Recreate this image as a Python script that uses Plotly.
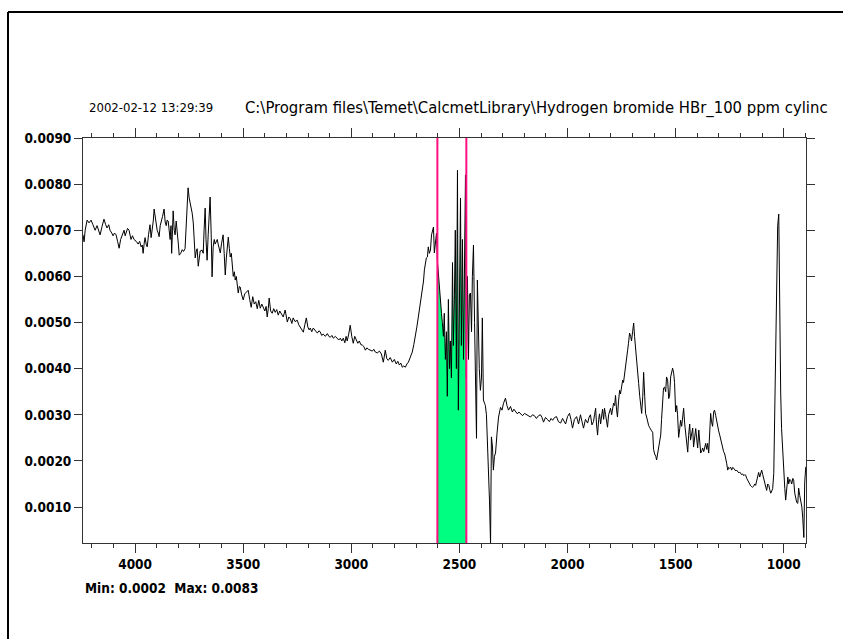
import numpy as np
import plotly.graph_objects as go

# ---------------- data: (wavenumber cm-1, absorbance) ----------------
region_high = [
    (4241, 0.00690), (4236, 0.00675), (4231, 0.00700), (4222, 0.00722), (4213, 0.00716),
    (4204, 0.00722), (4195, 0.00712), (4185, 0.00700), (4176, 0.00710), (4167, 0.00698),
    (4162, 0.00690), (4153, 0.00708), (4144, 0.00724), (4136, 0.00712), (4130, 0.00705),
    (4122, 0.00712), (4116, 0.00700), (4108, 0.00694), (4102, 0.00688), (4095, 0.00694),
    (4088, 0.00690), (4081, 0.00676), (4074, 0.00661), (4067, 0.00680), (4060, 0.00690),
    (4051, 0.00700), (4046, 0.00688), (4042, 0.00694), (4035, 0.00704), (4028, 0.00700),
    (4019, 0.00680), (4012, 0.00688), (4005, 0.00680), (3995, 0.00676), (3986, 0.00670),
    (3979, 0.00676), (3972, 0.00664), (3967, 0.00668), (3963, 0.00650), (3958, 0.00672),
    (3954, 0.00684), (3949, 0.00670), (3944, 0.00664), (3938, 0.00690), (3931, 0.00712),
    (3926, 0.00684), (3921, 0.00700), (3916, 0.00720), (3912, 0.00746), (3905, 0.00720),
    (3898, 0.00700), (3893, 0.00694), (3889, 0.00686), (3884, 0.00710), (3880, 0.00720),
    (3873, 0.00730), (3866, 0.00746), (3861, 0.00718), (3856, 0.00710), (3852, 0.00722),
    (3847, 0.00720), (3843, 0.00700), (3838, 0.00680), (3834, 0.00710), (3831, 0.00650),
    (3827, 0.00700), (3824, 0.00742), (3819, 0.00700), (3815, 0.00690), (3810, 0.00720),
    (3805, 0.00700), (3800, 0.00670), (3796, 0.00646), (3789, 0.00650), (3782, 0.00658),
    (3776, 0.00654), (3769, 0.00660), (3762, 0.00720), (3755, 0.00792), (3750, 0.00770),
    (3745, 0.00760), (3736, 0.00737), (3731, 0.00716), (3727, 0.00680), (3722, 0.00640),
    (3717, 0.00655), (3713, 0.00660), (3708, 0.00622),
]

region_oh = [
    (3699, 0.00655), (3690, 0.00657), (3685, 0.00650), (3681, 0.00700), (3676, 0.00748),
    (3672, 0.00680), (3667, 0.00635), (3662, 0.00690), (3658, 0.00720), (3653, 0.00772),
    (3648, 0.00690), (3644, 0.00599), (3639, 0.00664), (3634, 0.00680), (3630, 0.00670),
    (3625, 0.00674), (3620, 0.00680), (3616, 0.00670), (3611, 0.00660), (3606, 0.00651),
    (3600, 0.00672), (3593, 0.00690), (3588, 0.00650), (3583, 0.00603), (3578, 0.00640),
    (3573, 0.00670), (3569, 0.00685), (3564, 0.00660), (3560, 0.00642), (3555, 0.00650),
    (3550, 0.00620), (3546, 0.00600), (3541, 0.00610), (3537, 0.00592), (3532, 0.00600),
    (3528, 0.00580), (3523, 0.00564), (3518, 0.00578), (3514, 0.00577), (3507, 0.00560),
    (3500, 0.00549),
]

region_slope = [
    (3493, 0.00562), (3486, 0.00566), (3477, 0.00570), (3470, 0.00550), (3463, 0.00533),
    (3456, 0.00556), (3449, 0.00540), (3442, 0.00545), (3435, 0.00530), (3428, 0.00548),
    (3421, 0.00531), (3414, 0.00540), (3407, 0.00530), (3400, 0.00525), (3394, 0.00535),
    (3389, 0.00512), (3384, 0.00530), (3380, 0.00553), (3373, 0.00525), (3366, 0.00520),
    (3359, 0.00530), (3352, 0.00522), (3345, 0.00528), (3338, 0.00516), (3331, 0.00525),
    (3324, 0.00520), (3315, 0.00512), (3306, 0.00527), (3301, 0.00510), (3296, 0.00501),
    (3289, 0.00512), (3282, 0.00508), (3275, 0.00498), (3269, 0.00510), (3260, 0.00502),
    (3250, 0.00505), (3243, 0.00495), (3236, 0.00490), (3229, 0.00485), (3222, 0.00479),
    (3215, 0.00495), (3208, 0.00510), (3201, 0.00490), (3195, 0.00484), (3190, 0.00488),
    (3183, 0.00480), (3176, 0.00488), (3167, 0.00482), (3157, 0.00477), (3150, 0.00482),
    (3144, 0.00480), (3137, 0.00472), (3130, 0.00475), (3120, 0.00470), (3111, 0.00476),
    (3104, 0.00470), (3097, 0.00468), (3090, 0.00472), (3083, 0.00466), (3074, 0.00470),
    (3065, 0.00466), (3058, 0.00462), (3051, 0.00466), (3044, 0.00460), (3037, 0.00466),
    (3030, 0.00456), (3024, 0.00470), (3019, 0.00460), (3012, 0.00475), (3005, 0.00494),
    (2998, 0.00470), (2991, 0.00455), (2984, 0.00470), (2977, 0.00462), (2970, 0.00455),
    (2963, 0.00460), (2956, 0.00452), (2949, 0.00451), (2942, 0.00448), (2935, 0.00440),
    (2928, 0.00445), (2921, 0.00442), (2912, 0.00440), (2903, 0.00438), (2896, 0.00442),
    (2889, 0.00436), (2880, 0.00434), (2870, 0.00438), (2861, 0.00432), (2852, 0.00414),
    (2848, 0.00425), (2843, 0.00440), (2836, 0.00422), (2829, 0.00418), (2820, 0.00424),
    (2810, 0.00414), (2801, 0.00420), (2792, 0.00410), (2785, 0.00416), (2778, 0.00408),
]

region_rise = [
    (2771, 0.00412), (2764, 0.00403), (2757, 0.00406), (2750, 0.00403), (2743, 0.00410),
    (2736, 0.00414), (2727, 0.00425), (2718, 0.00436), (2711, 0.00452), (2704, 0.00468),
    (2697, 0.00490), (2690, 0.00512), (2681, 0.00540), (2671, 0.00570), (2666, 0.00590),
    (2662, 0.00614), (2657, 0.00635), (2653, 0.00640), (2648, 0.00642), (2644, 0.00664),
    (2639, 0.00650), (2634, 0.00657), (2629, 0.00690), (2625, 0.00700), (2620, 0.00707),
    (2616, 0.00651), (2611, 0.00680), (2606, 0.00694), (2602, 0.00635),
]

region_band = [
    (2597, 0.00600), (2593, 0.00580), (2588, 0.00550), (2583, 0.00520), (2579, 0.00500),
    (2574, 0.00470), (2570, 0.00520), (2565, 0.00420), (2560, 0.00480), (2556, 0.00340),
    (2551, 0.00550), (2546, 0.00400), (2542, 0.00460), (2537, 0.00380), (2532, 0.00630),
    (2528, 0.00450), (2523, 0.00560), (2519, 0.00700), (2514, 0.00400), (2509, 0.00830),
    (2505, 0.00310), (2500, 0.00550), (2495, 0.00770), (2491, 0.00450), (2486, 0.00680),
    (2481, 0.00420), (2477, 0.00600), (2472, 0.00820), (2468, 0.00380),
]

region_dip = [
    (2463, 0.00600), (2458, 0.00420), (2454, 0.00560), (2449, 0.00564), (2444, 0.00480),
    (2440, 0.00600), (2435, 0.00668), (2430, 0.00500), (2426, 0.00400), (2421, 0.00249),
    (2417, 0.00592), (2412, 0.00462), (2408, 0.00400), (2403, 0.00353), (2398, 0.00380),
    (2394, 0.00510), (2389, 0.00332), (2384, 0.00325), (2380, 0.00320), (2375, 0.00300),
    (2370, 0.00245), (2366, 0.00200), (2361, 0.00115), (2356, 0.00020), (2352, 0.00252),
    (2347, 0.00230), (2343, 0.00180), (2338, 0.00210), (2333, 0.00217), (2326, 0.00260),
    (2319, 0.00295), (2310, 0.00316), (2303, 0.00310), (2296, 0.00325), (2287, 0.00336),
]

region_plateau = [
    (2280, 0.00320), (2273, 0.00310), (2264, 0.00318), (2255, 0.00306), (2248, 0.00312),
    (2241, 0.00308), (2232, 0.00302), (2225, 0.00306), (2218, 0.00303), (2208, 0.00298),
    (2199, 0.00303), (2190, 0.00300), (2180, 0.00298), (2171, 0.00295), (2162, 0.00300),
    (2153, 0.00298), (2144, 0.00292), (2134, 0.00298), (2125, 0.00300), (2118, 0.00294),
    (2111, 0.00284), (2102, 0.00294), (2093, 0.00290), (2084, 0.00285), (2076, 0.00292),
    (2069, 0.00288), (2060, 0.00294), (2051, 0.00296), (2042, 0.00285), (2032, 0.00282),
    (2023, 0.00292), (2016, 0.00285), (2009, 0.00280), (2000, 0.00296), (1991, 0.00303),
    (1984, 0.00290), (1977, 0.00271), (1968, 0.00290), (1958, 0.00296), (1949, 0.00280),
    (1940, 0.00300), (1933, 0.00285), (1926, 0.00271), (1917, 0.00290), (1907, 0.00282),
    (1900, 0.00295), (1894, 0.00300), (1887, 0.00278), (1880, 0.00285), (1875, 0.00300),
    (1870, 0.00314), (1866, 0.00280), (1861, 0.00256), (1856, 0.00290), (1852, 0.00302),
    (1847, 0.00280), (1843, 0.00300), (1838, 0.00312), (1833, 0.00290), (1829, 0.00314),
    (1824, 0.00300), (1820, 0.00284), (1815, 0.00273), (1810, 0.00300), (1806, 0.00310),
    (1801, 0.00314), (1796, 0.00300), (1792, 0.00308), (1787, 0.00325), (1782, 0.00320),
]

region_mid = [
    (1778, 0.00342), (1773, 0.00310), (1769, 0.00295), (1764, 0.00330), (1759, 0.00353),
    (1755, 0.00345), (1750, 0.00360), (1745, 0.00375), (1741, 0.00370), (1736, 0.00392),
    (1731, 0.00400), (1727, 0.00420), (1722, 0.00440), (1718, 0.00455), (1713, 0.00477),
    (1708, 0.00470), (1704, 0.00460), (1699, 0.00480), (1694, 0.00499), (1690, 0.00470),
    (1685, 0.00447), (1680, 0.00420), (1676, 0.00390), (1671, 0.00368), (1666, 0.00340),
    (1662, 0.00320), (1657, 0.00303), (1652, 0.00340), (1648, 0.00392), (1643, 0.00340),
    (1639, 0.00303), (1634, 0.00295), (1630, 0.00285), (1625, 0.00277), (1620, 0.00272),
    (1616, 0.00268), (1611, 0.00265), (1606, 0.00262), (1602, 0.00225), (1597, 0.00215),
    (1592, 0.00210), (1588, 0.00202), (1583, 0.00215), (1579, 0.00230), (1574, 0.00245),
    (1569, 0.00256), (1565, 0.00290), (1560, 0.00325), (1556, 0.00358), (1551, 0.00360),
    (1546, 0.00350), (1542, 0.00382), (1537, 0.00375), (1532, 0.00335), (1528, 0.00340),
    (1523, 0.00382), (1518, 0.00395), (1514, 0.00401), (1509, 0.00390), (1505, 0.00370),
    (1500, 0.00306), (1495, 0.00320), (1491, 0.00300), (1486, 0.00251), (1481, 0.00270),
    (1477, 0.00288), (1472, 0.00275), (1468, 0.00295), (1463, 0.00314), (1458, 0.00280),
    (1454, 0.00260), (1449, 0.00240), (1444, 0.00219), (1440, 0.00255), (1435, 0.00280),
    (1431, 0.00245), (1426, 0.00262), (1421, 0.00271), (1417, 0.00230), (1412, 0.00255),
    (1407, 0.00270), (1403, 0.00250), (1398, 0.00228), (1393, 0.00267), (1389, 0.00235),
    (1384, 0.00217), (1379, 0.00222), (1375, 0.00228), (1370, 0.00220), (1366, 0.00232),
    (1361, 0.00238), (1356, 0.00225), (1352, 0.00238), (1347, 0.00217), (1343, 0.00270),
    (1338, 0.00303), (1334, 0.00285), (1329, 0.00275), (1324, 0.00306), (1320, 0.00310),
    (1315, 0.00299), (1310, 0.00285), (1306, 0.00275), (1301, 0.00265),
]

region_low = [
    (1296, 0.00256), (1291, 0.00245), (1287, 0.00238), (1282, 0.00230), (1278, 0.00220),
    (1273, 0.00215), (1269, 0.00208), (1264, 0.00195), (1259, 0.00180), (1255, 0.00186),
    (1250, 0.00184), (1245, 0.00186), (1241, 0.00180), (1236, 0.00186), (1231, 0.00184),
    (1227, 0.00180), (1222, 0.00178), (1218, 0.00180), (1213, 0.00176), (1208, 0.00174),
    (1204, 0.00176), (1199, 0.00173), (1194, 0.00170), (1190, 0.00172), (1185, 0.00168),
    (1181, 0.00170), (1176, 0.00169), (1171, 0.00162), (1167, 0.00158), (1162, 0.00154),
    (1157, 0.00150), (1153, 0.00146), (1148, 0.00144), (1144, 0.00143), (1139, 0.00145),
    (1134, 0.00150), (1130, 0.00147), (1125, 0.00155), (1120, 0.00168), (1116, 0.00175),
    (1111, 0.00165), (1106, 0.00172), (1102, 0.00180), (1097, 0.00170), (1092, 0.00160),
    (1088, 0.00154), (1083, 0.00140), (1079, 0.00136), (1074, 0.00150), (1069, 0.00147),
    (1065, 0.00138), (1060, 0.00130), (1055, 0.00135), (1051, 0.00140), (1046, 0.00173),
    (1042, 0.00288), (1037, 0.00447), (1032, 0.00620), (1028, 0.00710), (1023, 0.00735),
    (1019, 0.00500), (1014, 0.00347), (1010, 0.00270), (1005, 0.00223), (1000, 0.00165),
    (995, 0.00140), (991, 0.00115), (986, 0.00140), (981, 0.00165), (977, 0.00150),
    (972, 0.00160), (968, 0.00158), (963, 0.00150), (958, 0.00162), (954, 0.00158),
    (949, 0.00130), (944, 0.00115), (940, 0.00110), (935, 0.00108), (931, 0.00141),
    (926, 0.00125), (921, 0.00115), (916, 0.00100), (912, 0.00076), (907, 0.00034),
    (903, 0.00152), (898, 0.00187),
]

band_edges = [2602, 2468]          # integration window (cm-1)
x_range = [4241, 897]
y_range = [0.00022, 0.0090]
x_ticks = [4000, 3500, 3000, 2500, 2000, 1500, 1000]
y_ticks = [0.001, 0.002, 0.003, 0.004, 0.005, 0.006, 0.007, 0.008, 0.009]
y_tick_labels = ["0.0010", "0.0020", "0.0030", "0.0040", "0.0050",
                 "0.0060", "0.0070", "0.0080", "0.0090"]
timestamp = "2002-02-12 13:29:39"
file_path = "C:\\Program files\\Temet\\CalcmetLibrary\\Hydrogen bromide HBr_100 ppm cylinc"
stats_text = "Min: 0.0002  Max: 0.0083"

# ---------------- build ----------------
pairs = (region_high + region_oh + region_slope + region_rise + region_band
         + region_dip + region_plateau + region_mid + region_low)
wn = np.array([p[0] for p in pairs], dtype=float)
ab = np.array([p[1] for p in pairs], dtype=float)

hi, lo = max(band_edges), min(band_edges)
mask = (wn <= hi) & (wn >= lo)
band_x = np.concatenate([[hi], wn[mask], [lo]])
band_y = np.concatenate([[np.interp(hi, wn[::-1], ab[::-1])], ab[mask],
                         [np.interp(lo, wn[::-1], ab[::-1])]])

W, H = 843, 639
L, R, T, B = 83, 806, 138, 543


def fx(px):
    return (px - L) / (R - L)


def fy(py):
    return (B - py) / (B - T)


FONT = "DejaVu Sans Condensed, Liberation Sans Narrow, Arial Narrow, sans-serif"
AX = "#333333"

fig = go.Figure()
fig.add_trace(go.Scatter(x=band_x, y=band_y, mode="lines", fill="tozeroy",
                         fillcolor="#00FF80", line=dict(width=0, color="#00FF80"),
                         hoverinfo="skip"))
fig.add_trace(go.Scatter(x=wn, y=ab, mode="lines",
                         line=dict(color="#000000", width=1)))

for e in band_edges:
    fig.add_shape(type="line", xref="x", yref="paper", x0=e, x1=e, y0=0, y1=1,
                  line=dict(color="#FF1080", width=2))

# outer frame (left and top edges visible)
fig.add_shape(type="line", xref="paper", yref="paper", x0=fx(8), x1=fx(8),
              y0=fy(12), y1=fy(660), line=dict(color="black", width=2))
fig.add_shape(type="line", xref="paper", yref="paper", x0=fx(8), x1=fx(860),
              y0=fy(12), y1=fy(12), line=dict(color="black", width=2))

fig.add_annotation(text=timestamp, xref="paper", yref="paper", x=fx(87), y=fy(108),
                   xanchor="left", yanchor="middle", showarrow=False,
                   font=dict(family=FONT, size=13, color="black"))
fig.add_annotation(text=file_path, xref="paper", yref="paper", x=fx(243), y=fy(108),
                   xanchor="left", yanchor="middle", showarrow=False,
                   font=dict(family=FONT, size=16.5, color="black"))
fig.add_annotation(text=stats_text, xref="paper", yref="paper", x=fx(83), y=fy(588),
                   xanchor="left", yanchor="middle", showarrow=False,
                   font=dict(family=FONT, size=13.5, color="black", weight="bold"))

tickfont = dict(family=FONT, size=13.5, color="black", weight="bold")
fig.update_layout(
    width=W, height=H,
    margin=dict(l=L, r=W - R, t=T, b=H - B, pad=0),
    paper_bgcolor="white", plot_bgcolor="white",
    showlegend=False,
    xaxis=dict(range=x_range, tickmode="array", tickvals=x_ticks,
               ticktext=[str(v) for v in x_ticks],
               ticks="outside", ticklen=9, tickwidth=1, tickcolor=AX,
               showline=True, linecolor=AX, linewidth=1, mirror="allticks",
               showgrid=False, zeroline=False, tickfont=tickfont,
               minor=dict(tick0=0, dtick=100, ticks="outside", ticklen=4,
                          tickwidth=1, tickcolor=AX, showgrid=False)),
    yaxis=dict(range=y_range, tickmode="array", tickvals=y_ticks,
               ticktext=y_tick_labels,
               ticks="outside", ticklen=8, tickwidth=1, tickcolor=AX,
               showline=True, linecolor=AX, linewidth=1, mirror="allticks",
               showgrid=False, zeroline=False, tickfont=tickfont),
)

fig.write_html("out.html", config={"displayModeBar": False},
               post_script="document.body.style.margin='0';document.body.style.overflow='hidden';")
